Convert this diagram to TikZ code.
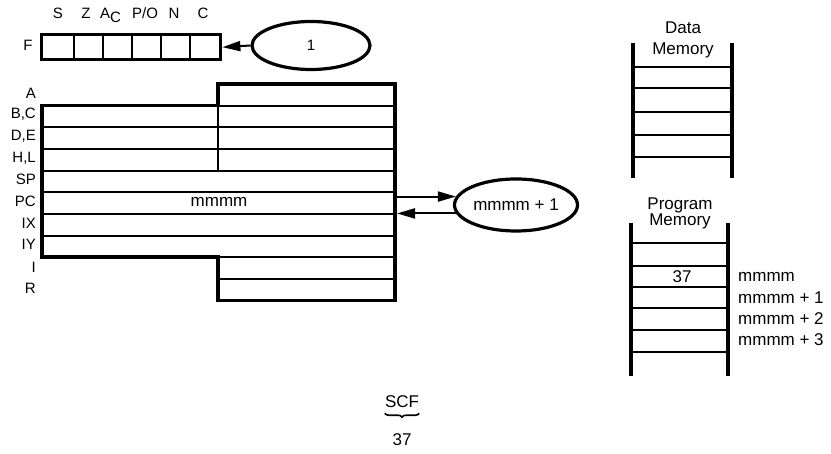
\documentclass[tikz,border=0pt]{standalone}
\usepackage{fontspec}
\setmainfont{Liberation Sans}
\usetikzlibrary{shapes.geometric,arrows.meta,decorations.pathreplacing,calc}
\begin{document}
\begin{tikzpicture}[x=1pt,y=-1pt,
  heavy/.style={line width=3.4pt},
  light/.style={line width=2pt},
  rl/.style={font=\fontsize{15}{17}\selectfont, inner sep=0pt},
  ml/.style={font=\fontsize{17}{19}\selectfont, inner sep=0pt},
  oval/.style={ellipse, draw, line width=3.2pt, inner sep=0pt},
  tipr/.style={-{Triangle[length=18pt,width=10pt]}, line width=2pt}
]
\useasboundingbox (0,0) rectangle (831,454);
% ---------- flag register ----------
\node[draw, heavy, minimum width=179pt, minimum height=25pt, inner sep=0pt, anchor=north west] (F) at (40,33) {};
\foreach \x in {74,103,132,161,190} \draw[light] (\x,33) -- (\x,58);
\node[rl] (fl) at (28,45.5) {F};
\node[rl] (fs) at (58,13) {S};
\node[rl] (fz) at (86,13) {Z};
\node[rl, anchor=base west] (fa) at (100,18.5) {A\raisebox{-4pt}{C}};
\node[rl] (fp) at (145,13) {P/O};
\node[rl] (fn) at (174,13) {N};
\node[rl] (fc) at (203,13) {C};
\node[oval, minimum width=118pt, minimum height=48pt, rl] (one) at (311,45.5) {1};
\draw[tipr] (one.west) -- (F.east);
% ---------- register block ----------
% rows: top 84, height 21.65
\foreach \y in {127.3,148.95,170.6,192.25,213.9,235.55} \draw[light] (42,\y) -- (395,\y);
\foreach \y in {105.65,257.2,278.85} \draw[light] (218,\y) -- (395,\y);
\draw[light] (218,105.65) -- (218,170.6);
\draw[heavy, line join=miter] (218,84) -- (395,84) -- (395,300.5) -- (218,300.5) -- (218,257.2) -- (42,257.2) -- (42,105.65) -- (218,105.65) -- cycle;
\foreach \t/\y [count=\k] in {A/93, {B,C}/114.5, {D,E}/136, {H,L}/158, SP/179, PC/201, IX/223, IY/244.5, I/267, R/288} {
  \node[rl, anchor=east] (r\k) at (36,\y) {\t};
}
\node[ml] (pcval) at (219,202) {mmmm};
\coordinate (regR) at (397,203);
\node[oval, minimum width=123pt, minimum height=52pt, ml] (pc) at (516,205) {mmmm + 1};
\draw[tipr] (regR |- pc.172) -- (pc.172);
\draw[tipr] (pc.188) -- (regR |- pc.188);
% ---------- data memory ----------
\node[ml] (dm1) at (683,28) {Data};
\node[ml] (dm2) at (683,50) {Memory};
\draw[heavy] (633,43) -- (633,178);
\draw[heavy] (732,43) -- (732,178);
\foreach \y in {67,88,112,135,157} \draw[light] (633,\y) -- (732,\y);
% ---------- program memory ----------
\node[ml] (pm1) at (680,205) {Program};
\node[ml] (pm2) at (680,221) {Memory};
\draw[heavy] (631,223) -- (631,376);
\draw[heavy] (728,223) -- (728,376);
\foreach \y in {243,266,287,308,330,352} \draw[light] (631,\y) -- (728,\y);
\node[ml] (v37) at (682,277) {37};
\node[ml, anchor=west] (a0) at (738,277) {mmmm};
\node[ml, anchor=west] (a1) at (738,298) {mmmm + 1};
\node[ml, anchor=west] (a2) at (738,319) {mmmm + 2};
\node[ml, anchor=west] (a3) at (738,340) {mmmm + 3};
% ---------- instruction ----------
\node[font=\fontsize{17}{19}\selectfont, inner sep=0pt] (scf) at (402,402) {SCF};
\draw[line width=1.6pt, decorate, decoration={brace, mirror, amplitude=4pt}] ($(scf.south west)+(0,5)$) -- ($(scf.south east)+(0,5)$);
\node[font=\fontsize{17}{19}\selectfont, inner sep=0pt] (op) at (402,440) {37};
\end{tikzpicture}
\end{document}
